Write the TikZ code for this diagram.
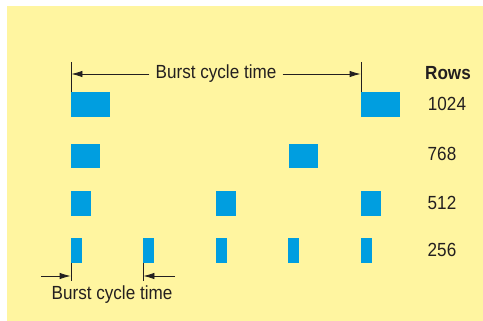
\documentclass[tikz,border=0pt]{standalone}
\usepackage{fontspec}
\setmainfont{Liberation Sans}
\usetikzlibrary{arrows.meta}
\definecolor{bgyellow}{RGB}{255,245,160}
\definecolor{barblue}{RGB}{0,158,224}
\definecolor{ink}{RGB}{35,31,32}
\newcommand{\cond}[1]{\scalebox{0.9}[1]{#1}}
\begin{document}
\begin{tikzpicture}[x=1pt,y=-1pt,
  bar/.style={fill=barblue,draw=none},
  lbl/.style={font=\fontsize{19}{22}\selectfont,text=ink,inner sep=0pt},
  tick/.style={draw=ink,line width=0.8pt},
  arr/.style={draw=ink,line width=0.8pt,-{Latex[length=11pt,width=6.5pt]}}]
\useasboundingbox (0,0) rectangle (483,321);
\fill[bgyellow] (7,6) rectangle (483,321);
% row 1024
\fill[bar] (71,92) rectangle (110,117);
\fill[bar] (361,92) rectangle (400,117);
% row 768
\fill[bar] (71,144) rectangle (100,168.5);
\fill[bar] (289,144) rectangle (318,168.5);
% row 512
\fill[bar] (71,191) rectangle (91,216);
\fill[bar] (216,191) rectangle (236,216);
\fill[bar] (361,191) rectangle (381,216);
% row 256
\fill[bar] (71,238) rectangle (82,263);
\fill[bar] (143,238) rectangle (154,263);
\fill[bar] (216,238) rectangle (227,263);
\fill[bar] (288,238) rectangle (299,263);
\fill[bar] (361,238) rectangle (372,263);
% top dimension
\coordinate (tl) at (71,62);
\coordinate (tlb) at (71,92);
\coordinate (tr) at (361,62);
\coordinate (trb) at (361,92);
\draw[tick] (tl) -- (tlb);
\draw[tick] (tr) -- (trb);
\node[lbl] (top) at (216,74) {\cond{Burst cycle time}};
\coordinate (al) at (71.4,74);
\coordinate (ar) at (360.6,74);
\draw[arr] ([xshift=-6pt]top.west |- al) -- (al);
\draw[arr] ([xshift=6pt]top.east |- ar) -- (ar);
% labels
\node[lbl,font=\bfseries\fontsize{19}{22}\selectfont] (rows) at (448,73) {\cond{Rows}};
\node[lbl] (n1024) at (447,104) {\cond{1024}};
\node[lbl] (n768) at (442,154) {\cond{768}};
\node[lbl] (n512) at (442,203) {\cond{512}};
\node[lbl] (n256) at (442,250) {\cond{256}};
% bottom dimension
\coordinate (bl) at (71,263);
\coordinate (blb) at (71,281);
\coordinate (br) at (143,263);
\coordinate (brb) at (143,281);
\draw[tick] (bl) -- (blb);
\draw[tick] (br) -- (brb);
\coordinate (bla) at (41,276);
\coordinate (blt) at (70.6,276);
\coordinate (bra) at (175,276);
\coordinate (brt) at (143.4,276);
\draw[arr] (bla) -- (blt);
\draw[arr] (bra) -- (brt);
\node[lbl] (bot) at (112,295) {\cond{Burst cycle time}};
\end{tikzpicture}
\end{document}
